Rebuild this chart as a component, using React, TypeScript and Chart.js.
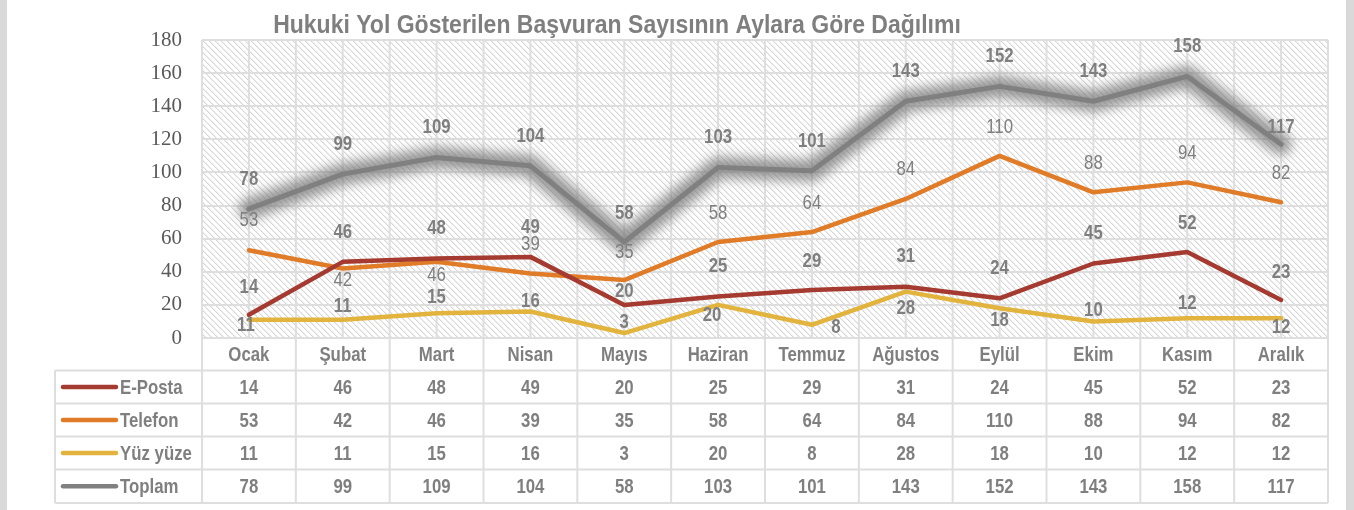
import React, { useEffect, useRef } from "react";
import { Chart, registerables } from "chart.js";

Chart.register(...registerables);

const TITLE = "Hukuki Yol Gösterilen Başvuran Sayısının Aylara Göre Dağılımı";
const MONTHS = ["Ocak", "Şubat", "Mart", "Nisan", "Mayıs", "Haziran", "Temmuz", "Ağustos", "Eylül", "Ekim", "Kasım", "Aralık"];
const EPOSTA = [14, 46, 48, 49, 20, 25, 29, 31, 24, 45, 52, 23];
const TELEFON = [53, 42, 46, 39, 35, 58, 64, 84, 110, 88, 94, 82];
const YUZYUZE = [11, 11, 15, 16, 3, 20, 8, 28, 18, 10, 12, 12];
const TOPLAM = [78, 99, 109, 104, 58, 103, 101, 143, 152, 143, 158, 117];
const SERIES_NAMES = ["E-Posta", "Telefon", "Yüz yüze", "Toplam"];
const Y_MIN = 0;
const Y_MAX = 180;
const Y_STEP = 20;

// styling: label offsets (px) per series/point
const LABEL_DY = [
  [-28, -30, -30, -30, -14, -30, -29, -30, -30, -30, -29, -28],
  [-30, 12, 13, -29, -28, -29, -29, -30, -29, -29, -29, -29],
  [5, -14, -16, -10, -11, 10, 2, 17, 12, -11, -15, 9],
  [-30, -30, -30, -30, -29, -30, -30, -30, -30, -30, -30, -17],
];
const LABEL_DX = [
  [0, 0, 0, 0, 0, 0, 0, 0, 0, 0, 0, 0],
  [0, 0, 0, 0, 0, 0, 0, 0, 0, 0, 0, 0],
  [-3, 0, 0, 0, 0, -6, 24, 0, 0, 0, 0, 0],
  [0, 0, 0, 0, 0, 0, 0, 0, 0, 0, 0, 0],
];
const LABEL_BOLD = [true, false, true, true];
const COLORS = ["#A53A30", "#E07B27", "#E2B43D", "#808080"];
const TEXT_GRAY = "#7F7F7F";
const GRID = "#DEDEDE";

function nText(ctx: CanvasRenderingContext2D, text: string, x: number, y: number, size: number, bold: boolean, color: string, align: CanvasTextAlign, baseline: CanvasTextBaseline = "middle", sx = 0.8) {
  ctx.save();
  ctx.translate(x, y);
  ctx.scale(sx, 1);
  ctx.font = `${bold ? "bold " : ""}${size}px "Liberation Sans", Arial, sans-serif`;
  ctx.textAlign = align;
  ctx.textBaseline = baseline;
  ctx.fillStyle = color;
  ctx.fillText(text, 0, 0);
  ctx.restore();
}

function makePattern(ctx: CanvasRenderingContext2D) {
  const c = document.createElement("canvas");
  c.width = 6;
  c.height = 6;
  const p = c.getContext("2d")!;
  p.fillStyle = "#ffffff";
  p.fillRect(0, 0, 6, 6);
  for (let i = 0; i < 6; i++) {
    p.fillStyle = "#d6d6d6";
    p.fillRect(i, i, 1, 1);
    p.fillStyle = "#eeeeee";
    p.fillRect((i + 1) % 6, i, 1, 1);
  }
  return ctx.createPattern(c, "repeat");
}

const decorPlugin = {
  id: "decor",
  beforeDraw(chart: any) {
    const ctx: CanvasRenderingContext2D = chart.ctx;
    const { left, right, top, bottom } = chart.chartArea;
    ctx.save();
    ctx.fillStyle = "#ffffff";
    ctx.fillRect(0, 0, chart.width, chart.height);
    ctx.fillStyle = "#D9D9D9";
    ctx.fillRect(0, 0, 7, chart.height);
    ctx.fillRect(1346, 0, chart.width - 1346, chart.height);
    const pat = makePattern(ctx);
    if (pat) {
      ctx.fillStyle = pat;
      ctx.fillRect(left, top, right - left, bottom - top);
    }
    const n = MONTHS.length;
    const w = (right - left) / n;
    ctx.strokeStyle = GRID;
    ctx.lineWidth = 2;
    for (let k = 0; k <= n * 2; k++) {
      const x = left + (w / 2) * k;
      ctx.beginPath();
      ctx.moveTo(x, top);
      ctx.lineTo(x, bottom);
      ctx.stroke();
    }
    ctx.restore();
  },
  beforeDatasetDraw(chart: any, args: any) {
    if (args.index !== 3) return;
    const ctx: CanvasRenderingContext2D = chart.ctx;
    const pts = args.meta.data;
    ctx.save();
    ctx.beginPath();
    pts.forEach((p: any, i: number) => (i === 0 ? ctx.moveTo(p.x, p.y) : ctx.lineTo(p.x, p.y)));
    ctx.filter = "blur(6px)";
    ctx.strokeStyle = "rgba(115,115,115,0.72)";
    ctx.lineWidth = 21;
    ctx.lineJoin = "round";
    ctx.lineCap = "round";
    ctx.stroke();
    ctx.restore();
  },
  afterDatasetsDraw(chart: any) {
    const ctx: CanvasRenderingContext2D = chart.ctx;
    chart.data.datasets.forEach((ds: any, di: number) => {
      const meta = chart.getDatasetMeta(di);
      meta.data.forEach((p: any, i: number) => {
        nText(ctx, String(ds.data[i]), p.x + LABEL_DX[di][i], p.y + LABEL_DY[di][i], 21, LABEL_BOLD[di], TEXT_GRAY, "center");
      });
    });
  },
  afterDraw(chart: any) {
    const ctx: CanvasRenderingContext2D = chart.ctx;
    const { left, right, bottom } = chart.chartArea;
    const xs = chart.scales.x;
    const n = MONTHS.length;
    const w = (right - left) / n;
    const tableLeft = 55;
    const rows = [bottom, bottom + 32.5, bottom + 65.5, bottom + 98.5, bottom + 131.5, bottom + 165];
    ctx.save();
    ctx.strokeStyle = GRID;
    ctx.lineWidth = 2;
    rows.forEach((y, r) => {
      ctx.beginPath();
      ctx.moveTo(r === 0 ? left : tableLeft, y);
      ctx.lineTo(right, y);
      ctx.stroke();
    });
    for (let k = 0; k <= n; k++) {
      const x = left + w * k;
      ctx.beginPath();
      ctx.moveTo(x, rows[0]);
      ctx.lineTo(x, rows[5]);
      ctx.stroke();
    }
    ctx.beginPath();
    ctx.moveTo(tableLeft, rows[1]);
    ctx.lineTo(tableLeft, rows[5]);
    ctx.stroke();
    ctx.restore();

    MONTHS.forEach((m, i) => {
      nText(ctx, m, xs.getPixelForValue(i), (rows[0] + rows[1]) / 2 + 1, 21, true, TEXT_GRAY, "center");
    });
    chart.data.datasets.forEach((ds: any, di: number) => {
      const yc = (rows[di + 1] + rows[di + 2]) / 2 + 1;
      ctx.save();
      ctx.strokeStyle = COLORS[di];
      ctx.lineWidth = 4.5;
      ctx.lineCap = "round";
      ctx.beginPath();
      ctx.moveTo(63, yc - 1);
      ctx.lineTo(116, yc - 1);
      ctx.stroke();
      ctx.restore();
      nText(ctx, SERIES_NAMES[di], 120, yc, 21, true, TEXT_GRAY, "left");
      ds.data.forEach((v: number, i: number) => {
        nText(ctx, String(v), xs.getPixelForValue(i), yc, 21, true, TEXT_GRAY, "center");
      });
    });

    nText(ctx, TITLE, 617, 33, 25, true, TEXT_GRAY, "center", "alphabetic", 0.92);
  },
};

export default function App() {
  const ref = useRef<HTMLCanvasElement>(null);
  useEffect(() => {
    if (!ref.current) return;
    const seriesData = [EPOSTA, TELEFON, YUZYUZE, TOPLAM];
    const chart = new Chart(ref.current, {
      type: "line",
      data: {
        labels: MONTHS,
        datasets: seriesData.map((d, i) => ({
          label: SERIES_NAMES[i],
          data: d,
          borderColor: COLORS[i],
          backgroundColor: COLORS[i],
          borderWidth: i === 3 ? 5 : 4.5,
          pointRadius: 0,
          tension: 0,
          fill: false,
          borderJoinStyle: "round" as const,
          borderCapStyle: "round" as const,
        })),
      },
      options: {
        responsive: false,
        animation: false,
        devicePixelRatio: 1,
        layout: { padding: { left: 0, right: 26, top: 40, bottom: 172 } },
        plugins: {
          legend: { display: false },
          title: { display: false },
          tooltip: { enabled: false },
        },
        scales: {
          x: { type: "category", display: false, offset: true },
          y: {
            min: Y_MIN,
            max: Y_MAX,
            ticks: {
              stepSize: Y_STEP,
              padding: 20,
              color: "#595959",
              font: { family: "'Liberation Serif', 'Times New Roman', serif", size: 21 },
            },
            grid: { color: GRID, lineWidth: 2, drawTicks: false },
            border: { display: false },
            afterFit: (scale: any) => {
              scale.width = 202;
            },
          },
        },
      },
      plugins: [decorPlugin],
    });
    return () => chart.destroy();
  }, []);
  return (
    <div style={{ position: "fixed", left: 0, top: 0, width: 1354, height: 510, background: "#fff" }}>
      <canvas ref={ref} width={1354} height={510} style={{ width: 1354, height: 510, display: "block" }} />
    </div>
  );
}
